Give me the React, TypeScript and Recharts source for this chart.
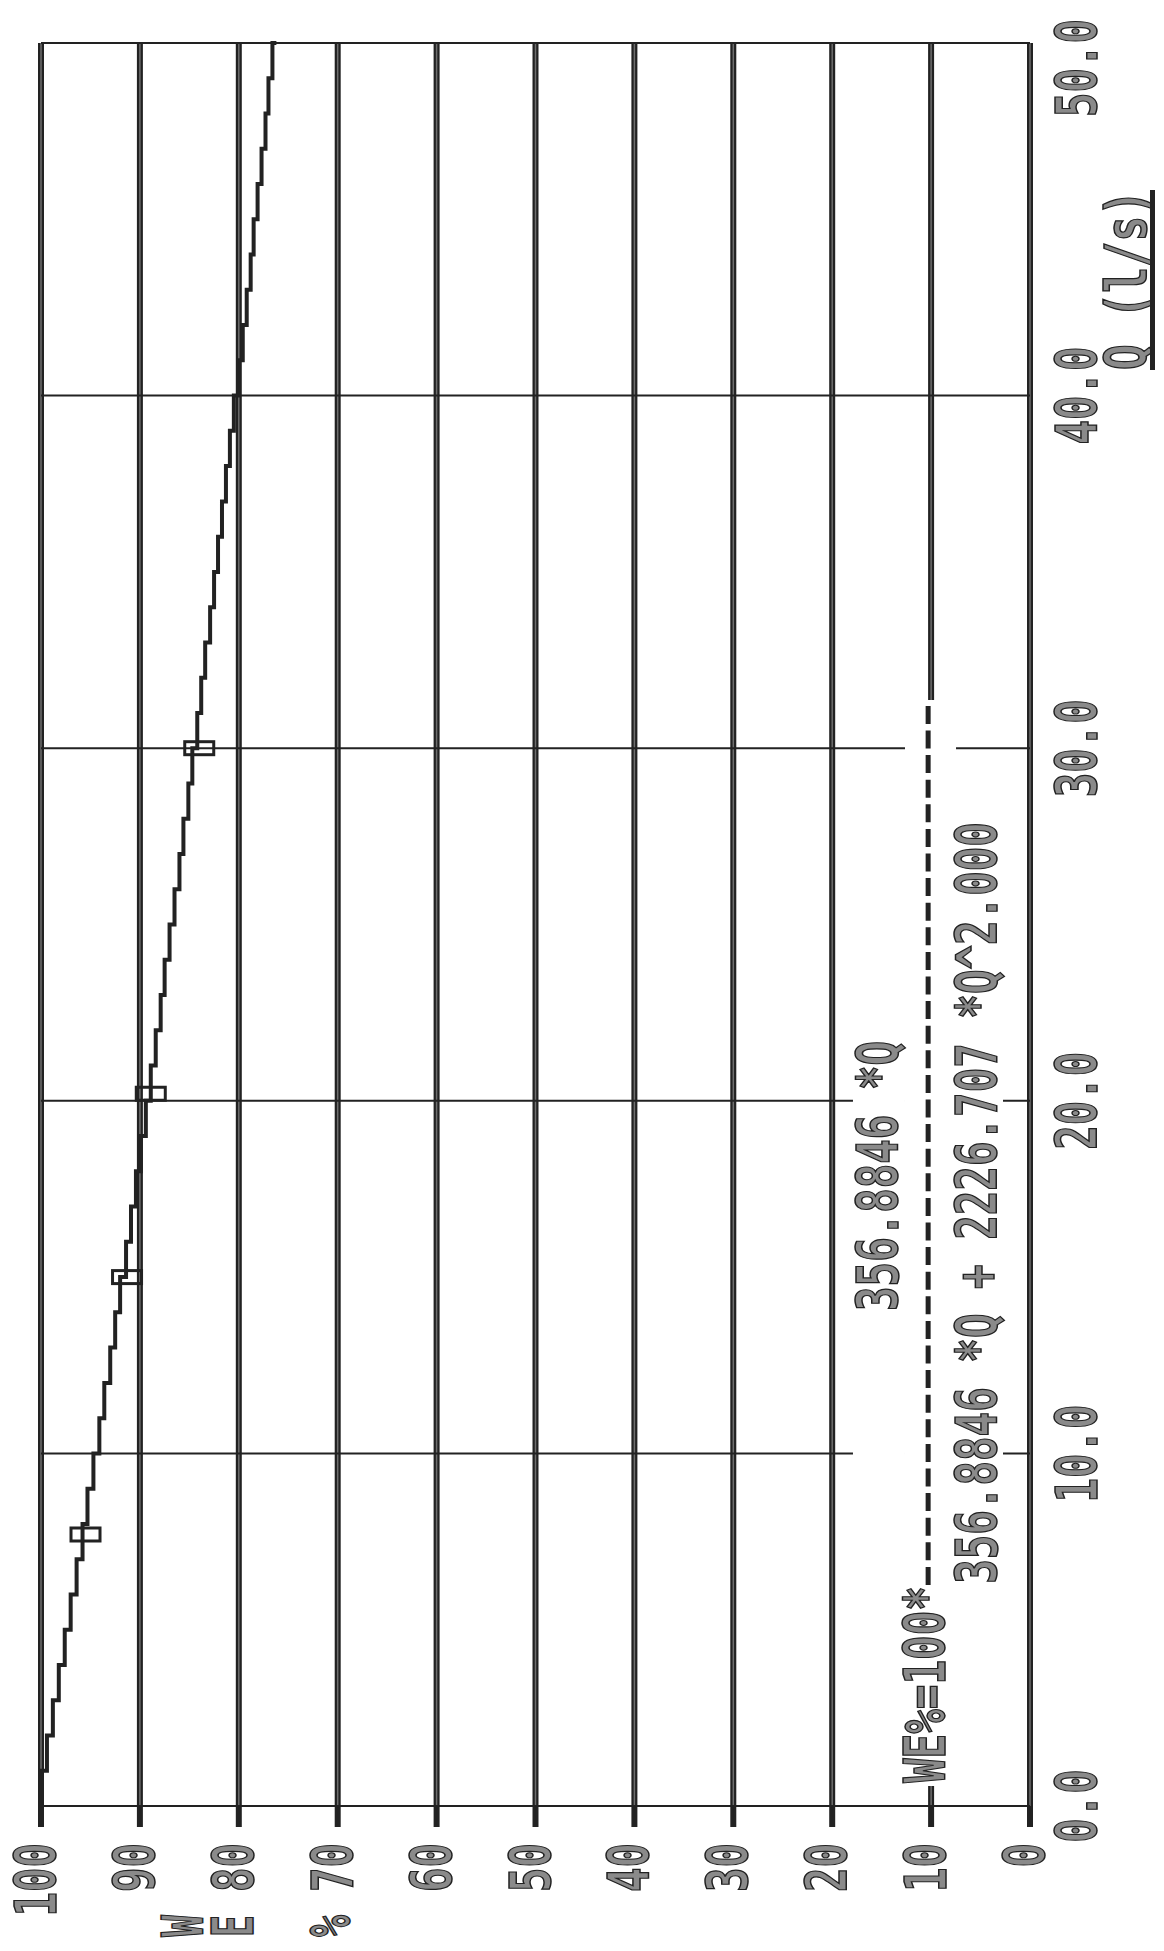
import React from "react";
import {
  ComposedChart,
  Line,
  Scatter,
  XAxis,
  YAxis,
  CartesianGrid,
  ReferenceArea,
  ReferenceLine,
  ReferenceDot,
  Label
} from "recharts";

// flow Q (l/s) and weir efficiency WE (%)
const flow = [
  0, 1, 2, 3, 4, 5, 6, 7, 8, 9, 10, 11, 12, 13, 14, 15, 16, 17, 18, 19, 20,
  21, 22, 23, 24, 25, 26, 27, 28, 29, 30, 31, 32, 33, 34, 35, 36, 37, 38, 39,
  40, 41, 42, 43, 44, 45, 46, 47, 48, 49, 50
];
const efficiency = [
  100.0, 99.4, 98.8, 98.2, 97.6, 97.0, 96.4, 95.8, 95.3, 94.7, 94.1, 93.6,
  93.0, 92.5, 92.0, 91.4, 90.9, 90.4, 89.9, 89.4, 88.9, 88.4, 87.9, 87.5,
  87.0, 86.5, 86.0, 85.6, 85.1, 84.7, 84.2, 83.8, 83.4, 82.9, 82.5, 82.1,
  81.7, 81.3, 80.9, 80.5, 80.0, 79.6, 79.2, 78.8, 78.5, 78.1, 77.7, 77.3,
  77.0, 76.6, 76.2
];

// measured points (square markers)
const measuredFlow = [7.7, 15.0, 20.2, 30.0];
const measuredEff = [95.5, 91.3, 88.9, 84.0];

const flowTicks = [0, 10, 20, 30, 40, 50];
const effTicks = [0, 10, 20, 30, 40, 50, 60, 70, 80, 90, 100];

const lead = "WE%=100*";
const numerator = "356.8846 *Q";
const denominator = "356.8846 *Q + 2226.707 *Q^2.000";

const curve = flow.map((q, i) => ({ q, we: efficiency[i] }));
const measured = measuredFlow.map((q, i) => ({ q, we: measuredEff[i] }));

const INK = "#222";
const PITCH = 24.5;
const FONT_SIZE = 57;
const ADVANCE = FONT_SIZE * 0.602; // DejaVu Sans Mono advance

// narrow printer-style text: squeeze a monospace font to the given length
function Mono({ x, y, text, len }: any) {
  const sx = len / (text.length * ADVANCE);
  return (
    <text
      transform={`translate(${x},${y}) scale(${sx},1)`}
      x={0}
      y={0}
      fontFamily="'DejaVu Sans Mono', monospace"
      fontSize={FONT_SIZE}
      fontWeight="bold"
      fill="#8a8a8a"
      stroke={INK}
      strokeWidth={1.5}
    >
      {text}
    </text>
  );
}

function EffTick(props: any) {
  const { x, y, payload } = props;
  const s = String(payload.value);
  const len = s.length * PITCH;
  return <Mono x={x - len} y={y + 15} text={s} len={len} />;
}

function FlowTick(props: any) {
  const { x, y, payload } = props;
  const s = Number(payload.value).toFixed(1);
  const len = s.length * PITCH;
  const start = Math.min(x - len / 2, 1932 - len);
  return <Mono x={start} y={y + 67} text={s} len={len} />;
}

function WeLabel() {
  return (
    <g>
      <Mono x={14} y={203} text="W" len={22} />
      <Mono x={14} y={253} text="E" len={22} />
      <Mono x={14} y={350} text="%" len={22} />
    </g>
  );
}

function QLabel(props: any) {
  const vb = props.viewBox;
  const x0 = vb.x + vb.width - 327;
  return (
    <g>
      <Mono x={x0} y={vb.y + 116} text="Q (l/s)" len={180} />
      <rect x={x0} y={vb.y + 120} width={180} height={5} fill={INK} />
    </g>
  );
}

function Box(props: any) {
  const { cx, cy } = props;
  return (
    <rect
      x={cx - 6.5}
      y={cy - 14.5}
      width={13}
      height={29}
      fill="none"
      stroke={INK}
      strokeWidth={3}
    />
  );
}

export default function App() {
  return (
    <div
      style={{
        position: "absolute",
        left: 0,
        top: 0,
        width: 1164,
        height: 1951,
        overflow: "hidden",
        background: "#fff"
      }}
    >
      <div
        style={{
          position: "absolute",
          left: 0,
          top: 0,
          width: 1951,
          height: 1164,
          transformOrigin: "0 0",
          transform: "translateY(1951px) rotate(-90deg)"
        }}
      >
        <ComposedChart
          width={1951}
          height={1164}
          data={curve}
          margin={{ top: 41, right: 43, bottom: 0, left: 0 }}
        >
          <CartesianGrid vertical={false} stroke={INK} strokeWidth={6} />
          <CartesianGrid vertical={false} stroke="#6e6e6e" strokeWidth={1.5} />
          <CartesianGrid horizontal={false} stroke={INK} strokeWidth={2} />
          <XAxis
            dataKey="q"
            type="number"
            domain={[0, 50]}
            ticks={flowTicks}
            interval={0}
            height={134}
            axisLine={false}
            tickLine={false}
            tickSize={0}
            tickMargin={0}
            tick={<FlowTick />}
          >
            <Label content={<QLabel />} />
          </XAxis>
          <YAxis
            dataKey="we"
            type="number"
            domain={[0, 100]}
            ticks={effTicks}
            interval={0}
            width={145}
            axisLine={{ stroke: INK, strokeWidth: 2 }}
            tickLine={{ stroke: INK, strokeWidth: 6 }}
            tickSize={21}
            tickMargin={16}
            tick={<EffTick />}
          >
            <Label content={<WeLabel />} />
          </YAxis>

          <ReferenceArea x1={0.57} x2={21.75} y1={12.64} y2={17.9} fill="#fff" fillOpacity={1} stroke="none" />
          <ReferenceArea x1={0.57} x2={31.37} y1={7.48} y2={12.64} fill="#fff" fillOpacity={1} stroke="none" />
          <ReferenceArea x1={0.57} x2={27.9} y1={2.73} y2={7.48} fill="#fff" fillOpacity={1} stroke="none" />

          <ReferenceLine
            segment={[{ x: 6.27, y: 10.3 }, { x: 31.37, y: 10.3 }]}
            stroke={INK}
            strokeWidth={5}
            strokeDasharray="18 6.6"
          />
          <ReferenceDot
            x={0.65}
            y={8.59}
            r={0}
            shape={(p: any) => <Mono x={p.cx} y={p.cy} text={lead} len={197} />}
          />
          <ReferenceDot
            x={14.04}
            y={13.35}
            r={0}
            shape={(p: any) => <Mono x={p.cx} y={p.cy} text={numerator} len={270} />}
          />
          <ReferenceDot
            x={6.3}
            y={3.34}
            r={0}
            shape={(p: any) => <Mono x={p.cx} y={p.cy} text={denominator} len={762} />}
          />

          <Line
            type="stepAfter"
            dataKey="we"
            stroke={INK}
            strokeWidth={4}
            dot={false}
            isAnimationActive={false}
          />
          <Scatter
            data={measured}
            dataKey="we"
            shape={<Box />}
            isAnimationActive={false}
          />
        </ComposedChart>
      </div>
    </div>
  );
}
